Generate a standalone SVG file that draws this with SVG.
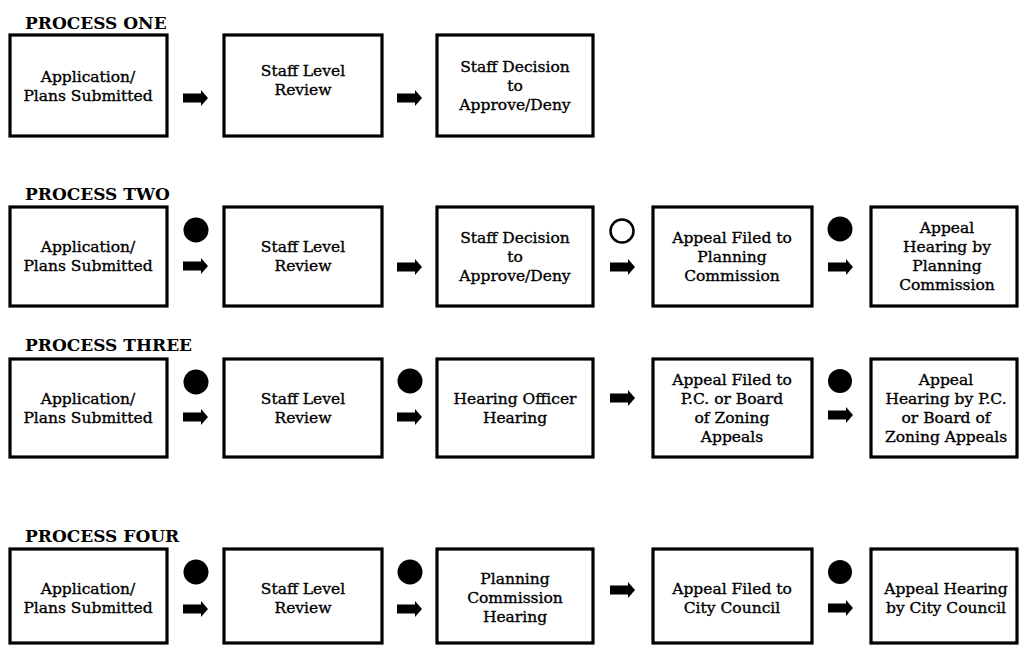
<svg xmlns="http://www.w3.org/2000/svg" xmlns:xlink="http://www.w3.org/1999/xlink" width="1019" height="646" viewBox="0 0 1019 646">
<style>
  .bg{fill:#ffffff}
  .box{fill:#ffffff;stroke:#000;stroke-width:3.2}
  .t{font-family:"DejaVu Serif","Liberation Serif",serif;font-size:15.5px;fill:#000;stroke:#000;stroke-width:0.35;text-anchor:middle}
  .title{font-family:"DejaVu Serif","Liberation Serif",serif;font-size:17px;font-weight:bold;fill:#000}
  .dot{fill:#000}
  .ring{fill:#fff;stroke:#000;stroke-width:2.5}
  .arr{fill:#000}
</style>
<defs>
  <path id="arrow" d="M0,-4.5 H18 V-8 L25,0 L18,8 V4.5 H0 Z"/>
</defs>
<rect class="bg" x="0" y="0" width="1019" height="646"/>

<g id="titles">
  <text class="title" x="25" y="29">PROCESS ONE</text>
  <text class="title" x="25" y="200">PROCESS TWO</text>
  <text class="title" x="25" y="351">PROCESS THREE</text>
  <text class="title" x="25" y="542">PROCESS FOUR</text>
</g>

<!-- Row 1 -->
<g id="p1-app"><rect class="box" x="10" y="35" width="157" height="101"/>
  <text class="t" x="88" y="81.5">Application/</text><text class="t" x="88" y="100.5">Plans Submitted</text></g>
<g id="p1-staff"><rect class="box" x="224" y="35" width="158" height="101"/>
  <text class="t" x="303" y="76">Staff Level</text><text class="t" x="303" y="95">Review</text></g>
<g id="p1-decision"><rect class="box" x="437" y="35" width="156" height="101"/>
  <text class="t" x="515" y="71.5">Staff Decision</text><text class="t" x="515" y="90.5">to</text><text class="t" x="515" y="109.5">Approve/Deny</text></g>

<!-- Row 2 -->
<g id="p2-app"><rect class="box" x="10" y="207" width="157" height="99"/>
  <text class="t" x="88" y="252">Application/</text><text class="t" x="88" y="271">Plans Submitted</text></g>
<g id="p2-staff"><rect class="box" x="224" y="207" width="158" height="99"/>
  <text class="t" x="303" y="252">Staff Level</text><text class="t" x="303" y="271">Review</text></g>
<g id="p2-decision"><rect class="box" x="437" y="207" width="156" height="99"/>
  <text class="t" x="515" y="242.5">Staff Decision</text><text class="t" x="515" y="261.5">to</text><text class="t" x="515" y="280.5">Approve/Deny</text></g>
<g id="p2-appeal"><rect class="box" x="653" y="207" width="159" height="99"/>
  <text class="t" x="732" y="242.5">Appeal Filed to</text><text class="t" x="732" y="261.5">Planning</text><text class="t" x="732" y="280.5">Commission</text></g>
<g id="p2-hearing"><rect class="box" x="871" y="207" width="146" height="99"/>
  <text class="t" x="947" y="233">Appeal</text><text class="t" x="947" y="252">Hearing by</text><text class="t" x="947" y="271">Planning</text><text class="t" x="947" y="290">Commission</text></g>

<!-- Row 3 -->
<g id="p3-app"><rect class="box" x="10" y="359" width="157" height="98"/>
  <text class="t" x="88" y="403.5">Application/</text><text class="t" x="88" y="422.5">Plans Submitted</text></g>
<g id="p3-staff"><rect class="box" x="224" y="359" width="158" height="98"/>
  <text class="t" x="303" y="403.5">Staff Level</text><text class="t" x="303" y="422.5">Review</text></g>
<g id="p3-officer"><rect class="box" x="437" y="359" width="156" height="98"/>
  <text class="t" x="515" y="403.5">Hearing Officer</text><text class="t" x="515" y="422.5">Hearing</text></g>
<g id="p3-appeal"><rect class="box" x="653" y="359" width="159" height="98"/>
  <text class="t" x="732" y="384.5">Appeal Filed to</text><text class="t" x="732" y="403.5">P.C. or Board</text><text class="t" x="732" y="422.5">of Zoning</text><text class="t" x="732" y="441.5">Appeals</text></g>
<g id="p3-hearing"><rect class="box" x="871" y="359" width="146" height="98"/>
  <text class="t" x="946" y="384.5">Appeal</text><text class="t" x="946" y="403.5">Hearing by P.C.</text><text class="t" x="946" y="422.5">or Board of</text><text class="t" x="946" y="441.5">Zoning Appeals</text></g>

<!-- Row 4 -->
<g id="p4-app"><rect class="box" x="10" y="549" width="157" height="94"/>
  <text class="t" x="88" y="594">Application/</text><text class="t" x="88" y="613">Plans Submitted</text></g>
<g id="p4-staff"><rect class="box" x="224" y="549" width="158" height="94"/>
  <text class="t" x="303" y="594">Staff Level</text><text class="t" x="303" y="613">Review</text></g>
<g id="p4-pc"><rect class="box" x="437" y="549" width="156" height="94"/>
  <text class="t" x="515" y="584">Planning</text><text class="t" x="515" y="603">Commission</text><text class="t" x="515" y="622">Hearing</text></g>
<g id="p4-appeal"><rect class="box" x="653" y="549" width="159" height="94"/>
  <text class="t" x="732" y="594">Appeal Filed to</text><text class="t" x="732" y="613">City Council</text></g>
<g id="p4-hearing"><rect class="box" x="871" y="549" width="146" height="94"/>
  <text class="t" x="946" y="594">Appeal Hearing</text><text class="t" x="946" y="613">by City Council</text></g>

<g id="connectors" class="arr">
  <use href="#arrow" x="183" y="98"/>
  <use href="#arrow" x="397" y="98"/>

  <use href="#arrow" x="183" y="266"/>
  <use href="#arrow" x="397" y="267"/>
  <use href="#arrow" x="610" y="267"/>
  <use href="#arrow" x="828" y="267"/>

  <use href="#arrow" x="183" y="417"/>
  <use href="#arrow" x="397" y="417"/>
  <use href="#arrow" x="610" y="398"/>
  <use href="#arrow" x="828" y="415"/>

  <use href="#arrow" x="183" y="609"/>
  <use href="#arrow" x="397" y="609"/>
  <use href="#arrow" x="610" y="590"/>
  <use href="#arrow" x="828" y="608"/>
</g>

<g id="symbols">
  <circle class="dot" cx="196" cy="230" r="12.5"/>
  <circle class="ring" cx="622" cy="231" r="11.5"/>
  <circle class="dot" cx="840" cy="229" r="12.5"/>

  <circle class="dot" cx="196" cy="382" r="12.5"/>
  <circle class="dot" cx="410" cy="381" r="12.5"/>
  <circle class="dot" cx="840" cy="381" r="12"/>

  <circle class="dot" cx="196" cy="572" r="12.5"/>
  <circle class="dot" cx="410" cy="572" r="12.5"/>
  <circle class="dot" cx="840" cy="572" r="12"/>
</g>
</svg>
